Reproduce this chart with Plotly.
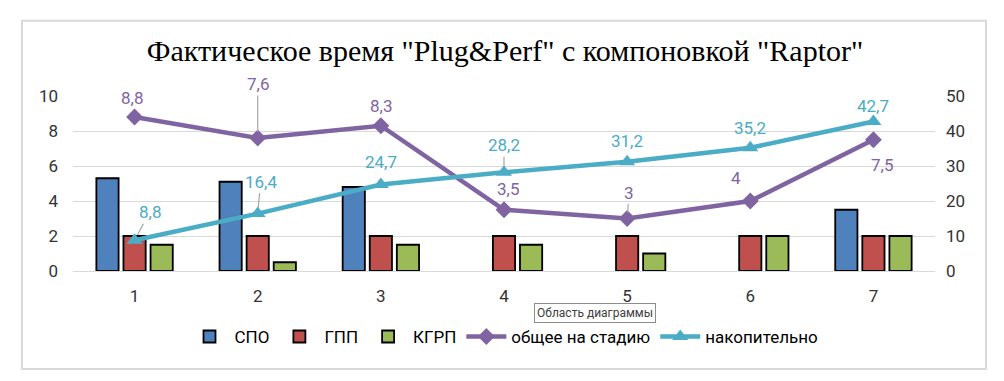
import plotly.graph_objects as go
from plotly.subplots import make_subplots

categories = ["1", "2", "3", "4", "5", "6", "7"]
spo = [5.3, 5.1, 4.8, 0, 0, 0, 3.5]
gpp = [2, 2, 2, 2, 2, 2, 2]
kgrp = [1.5, 0.5, 1.5, 1.5, 1.0, 2, 2]
total_stage = [8.8, 7.6, 8.3, 3.5, 3, 4, 7.5]
cumulative = [8.8, 16.4, 24.7, 28.2, 31.2, 35.2, 42.7]

title = 'Фактическое время "Plug&Perf" с компоновкой "Raptor"'
names = ["СПО", "ГПП", "КГРП", "общее на стадию", "накопительно"]

C_BLUE = "#4F81BD"
C_RED = "#C0504D"
C_GREEN = "#9BBB59"
C_PURPLE = "#8064A2"
C_TEAL = "#4BACC6"
TICK = "#333333"
GRID = "#D9D9D9"
FONT = "Liberation Sans Narrow, Roboto, Arial, sans-serif"

fig = make_subplots(specs=[[{"secondary_y": True}]])

for vals, nm, col in [(spo, names[0], C_BLUE), (gpp, names[1], C_RED), (kgrp, names[2], C_GREEN)]:
    fig.add_trace(go.Bar(x=categories, y=[v if v else None for v in vals], name=nm,
                         marker=dict(color=col, line=dict(color="black", width=1.8))),
                  secondary_y=False)

fig.add_trace(go.Scatter(x=categories, y=total_stage, name=names[3], mode="lines+markers",
                         line=dict(color=C_PURPLE, width=4.5),
                         marker=dict(symbol="diamond", size=13, color=C_PURPLE)), secondary_y=False)
fig.add_trace(go.Scatter(x=categories, y=cumulative, name=names[4], mode="lines+markers",
                         line=dict(color=C_TEAL, width=4.5),
                         marker=dict(symbol="triangle-up", size=14, color=C_TEAL)), secondary_y=True)

# data label offsets (pixels): (dx, dy, leader)
p_off = [(-3, -19, False), (0, -54, True), (0, -20, False), (4, -21, False), (2, -26, True), (-14, -23, False), (9, 25, False)]
t_off = [(15, -28, True), (3, -32, True), (0, -23, False), (0, -27, True), (0, -21, False), (0, -20, False), (0, -16, False)]

def fmt(v):
    return ("%g" % v).replace(".", ",")

annots = []
for series, offs, yref, col in [(total_stage, p_off, "y", C_PURPLE), (cumulative, t_off, "y2", C_TEAL)]:
    for i, v in enumerate(series):
        dx, dy, lead = offs[i]
        a = dict(x=i, y=v, xref="x", yref=yref, text=fmt(v), font=dict(color=col, size=17, family=FONT))
        if lead:
            a.update(showarrow=True, ax=dx, ay=dy, arrowhead=0, arrowwidth=1.2, arrowcolor="#A6A6A6", standoff=6)
        else:
            a.update(showarrow=False, xshift=dx, yshift=-dy)
        annots.append(a)

annots.append(dict(x=0.606, y=-0.24, xref="paper", yref="paper", xanchor="center", yanchor="middle",
                   text="Область диаграммы", showarrow=False,
                   font=dict(size=12, color="#404040", family=FONT), bgcolor="white",
                   bordercolor="#8C8C8C", borderwidth=1, borderpad=2))

# page body adds an 8px offset; figure is sized/margined to compensate
fig.update_layout(
    width=996, height=373,
    margin=dict(l=65, r=69, t=88, b=110),
    paper_bgcolor="white", plot_bgcolor="white",
    title=dict(text=title, x=0.499, xanchor="center", y=0.885, yanchor="middle",
               font=dict(family="Liberation Serif, Times New Roman, serif", size=30, color="black")),
    barmode="group", bargap=0.34, bargroupgap=0.18,
    showlegend=True,
    legend=dict(orientation="h", x=0.5, xanchor="center", y=-0.377, yanchor="middle",
                font=dict(size=17, color="black", family=FONT), itemwidth=40, traceorder="normal"),
    annotations=annots,
    shapes=[dict(type="rect", xref="paper", yref="paper", x0=-0.0592, x1=1.0592, y0=-0.56, y1=1.43,
                 line=dict(color=GRID, width=2), layer="below")],
    font=dict(family=FONT),
)
fig.update_xaxes(domain=[0, 1], range=[-0.5, 6.5], showgrid=False, showline=True, linecolor=GRID, linewidth=1.2,
                 ticks="", ticklabelstandoff=9, tickfont=dict(size=17, color=TICK, family=FONT))
fig.update_yaxes(range=[0, 10], dtick=2, showgrid=True, gridcolor=GRID, gridwidth=1.2, zeroline=False,
                 ticklabelstandoff=14, tickfont=dict(size=17, color=TICK, family=FONT), ticks="", secondary_y=False)
fig.update_yaxes(range=[0, 50], dtick=10, showgrid=False, zeroline=False,
                 ticklabelstandoff=10, tickfont=dict(size=17, color=TICK, family=FONT), ticks="", secondary_y=True)

fig.write_html("out.html")
